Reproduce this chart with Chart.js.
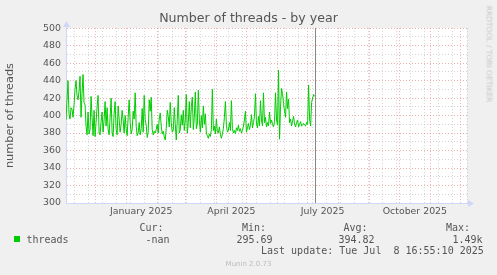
<!DOCTYPE html>
<html>
<head>
<meta charset="utf-8">
<title>Number of threads - by year</title>
<script src="https://cdn.jsdelivr.net/npm/chart.js@4/dist/chart.umd.min.js"></script>
<style>
  body { margin: 0; background: #f0f0f0; }
  #wrap { position: relative; width: 497px; height: 275px; }
  #chart { display: block; }
  .t { position: absolute; font: 10px/12px "DejaVu Sans Mono", monospace; color: #555; white-space: pre; }
  .swatch { position: absolute; left: 14px; top: 236px; width: 6px; height: 6px; background: #00cc00; }
  .foot { position: absolute; left: 0; width: 497px; top: 259.5px; text-align: center; font: 7px/9px "DejaVu Sans", sans-serif; color: #bbb; }
  .rrd { position: absolute; left: 488.5px; top: 53.5px; transform: translate(-50%, -50%) rotate(90deg);
         font: 7.5px/9px "DejaVu Sans", sans-serif; color: #c8c8c8; white-space: pre; }
</style>
</head>
<body>
<div id="wrap">
  <canvas id="chart" width="497" height="275"></canvas>
  <div class="rrd">RRDTOOL / TOBI OETIKER</div>
  <div class="swatch"></div>
  <div class="t" style="left:26.5px;top:233.5px">threads</div>
  <div class="t" style="left:139.5px;top:222px">Cur:</div>
  <div class="t" style="left:145.5px;top:233.5px">-nan</div>
  <div class="t" style="left:242px;top:222px">Min:</div>
  <div class="t" style="left:236.5px;top:233.5px">295.69</div>
  <div class="t" style="left:343.5px;top:222px">Avg:</div>
  <div class="t" style="left:338.5px;top:233.5px">394.82</div>
  <div class="t" style="left:446px;top:222px">Max:</div>
  <div class="t" style="left:452.5px;top:233.5px">1.49k</div>
  <div class="t" style="left:261px;top:245.3px">Last update: Tue Jul  8 16:55:10 2025</div>
  <div class="foot">Munin 2.0.73</div>
</div>
<script>
// x values are days counted from 1 Nov 2024
const firstDay = 1;
const nowDay = 249; // Tue Jul 8 2025

// daily thread counts, 2 Nov 2024 .. 8 Jul 2025
const threads = [
  395, 418, 440, 402, 396, 409, 407, 398, 412, 430,
  440, 423, 418, 428, 445, 398, 425, 447, 415, 412,
  388, 378, 404, 379, 384, 422, 398, 377, 406, 376,
  392, 410, 423, 380, 378, 393, 404, 381, 395, 416,
  388, 409, 385, 378, 398, 420, 380, 376, 402, 416,
  384, 378, 411, 396, 381, 390, 406, 395, 380, 400,
  385, 377, 398, 418, 392, 379, 384, 405, 396, 426,
  388, 377, 380, 392, 378, 385, 408, 381, 423, 395,
  389, 375, 381, 418, 405, 421, 384, 378, 382, 380,
  384, 390, 380, 396, 403, 388, 379, 382, 376, 372,
  385, 406, 399, 387, 415, 392, 381, 383, 409, 390,
  372, 395, 423, 380, 384, 401, 389, 406, 383, 395,
  424, 380, 392, 416, 386, 410, 421, 384, 398, 427,
  385, 390, 429, 395, 381, 400, 386, 411, 390, 402,
  380, 377, 374, 379, 376, 384, 430, 383, 388, 379,
  396, 381, 380, 387, 378, 374, 379, 385, 398, 416,
  389, 381, 383, 392, 383, 417, 385, 380, 383, 379,
  386, 383, 389, 382, 385, 380, 383, 388, 395, 405,
  381, 386, 391, 384, 389, 401, 386, 392, 399, 425,
  390, 386, 399, 388, 417, 395, 388, 426, 392, 398,
  387, 392, 388, 404, 391, 395, 390, 387, 393, 426,
  395, 389, 452, 373, 410, 431, 425, 414, 405, 398,
  427, 408, 419, 392, 396, 388, 394, 399, 390, 387,
  392, 395, 387, 390, 393, 388, 389, 391, 389, 388,
  392, 390, 435, 396, 388, 415, 420, 424, 422
];

// first day of each month (red lines)
const monthStarts = [30, 61, 92, 120, 151, 181, 212, 242, 273, 304, 334, 365, 395];
// two-weekly minor lines (grey)
const minorDays = [9, 23, 37, 51, 65, 79, 93, 107, 121, 135, 149, 163, 177, 191, 205,
                   219, 233, 247, 261, 275, 289, 303, 317, 331, 345, 359, 373, 387, 401];
const labelDays = [76, 166, 257, 349];
const labelTexts = ["January 2025", "April 2025", "July 2025", "October 2025"];

const gridRed = "rgba(225,110,110,0.55)";
const gridGray = "rgba(160,160,160,0.45)";
const axisColor = "#cfd6f8";
const fontColor = "#555";

const points = threads.map((v, i) => ({ x: firstDay + i, y: v }));

const plotBg = {
  id: "plotBg",
  beforeDraw(chart) {
    const a = chart.chartArea, c = chart.ctx;
    c.save();
    c.fillStyle = "#fff";
    c.fillRect(a.left, a.top, a.right - a.left, a.bottom - a.top);
    c.restore();
  }
};

const muninBits = {
  id: "muninBits",
  afterDatasetsDraw(chart) {
    const a = chart.chartArea, c = chart.ctx;
    const x = Math.round(chart.scales.x.getPixelForValue(nowDay)) + 0.5;
    c.save();
    c.strokeStyle = "#888";
    c.lineWidth = 1;
    c.beginPath();
    c.moveTo(x, a.top);
    c.lineTo(x, a.bottom);
    c.stroke();
    c.restore();
  },
  afterDraw(chart) {
    const a = chart.chartArea, c = chart.ctx;
    const left = Math.round(a.left) + 0.5, bottom = Math.round(a.bottom) + 0.5;
    c.save();
    c.strokeStyle = axisColor;
    c.fillStyle = axisColor;
    c.lineWidth = 1;
    c.beginPath();
    c.moveTo(left, a.top);
    c.lineTo(left, a.top - 4);
    c.moveTo(a.right, bottom);
    c.lineTo(a.right + 3, bottom);
    c.stroke();
    c.beginPath();
    c.moveTo(left, a.top - 7);
    c.lineTo(left - 3.5, a.top - 1);
    c.lineTo(left + 3.5, a.top - 1);
    c.closePath();
    c.fill();
    c.beginPath();
    c.moveTo(a.right + 7, bottom);
    c.lineTo(a.right + 1, bottom - 3.5);
    c.lineTo(a.right + 1, bottom + 3.5);
    c.closePath();
    c.fill();
    c.restore();
  }
};

const ctx = document.getElementById("chart").getContext("2d");
new Chart(ctx, {
  type: "line",
  data: {
    datasets: [
      {
        label: "threads",
        data: points,
        borderColor: "#00cc00",
        borderWidth: 1,
        pointRadius: 0,
        fill: false,
        tension: 0,
      },
    ],
  },
  options: {
    responsive: false,
    animation: false,
    events: [],
    layout: { padding: 0 },
    plugins: {
      legend: { display: false },
      tooltip: { enabled: false },
      title: {
        display: true,
        text: "Number of threads - by year",
        color: fontColor,
        font: { family: "DejaVu Sans", size: 12.6, weight: "normal" },
        padding: { top: 11, bottom: 2 },
      },
    },
    scales: {
      x: {
        type: "linear",
        min: 1,
        max: 401,
        afterBuildTicks(scale) {
          const all = monthStarts.concat(minorDays, labelDays).sort((a, b) => a - b);
          scale.ticks = all.map((v) => ({ value: v }));
        },
        afterFit(scale) {
          scale.height = 72;
        },
        ticks: {
          autoSkip: false,
          maxRotation: 0,
          padding: 3,
          color: fontColor,
          font: { family: "DejaVu Sans", size: 9.4 },
          callback(v) {
            const k = labelDays.indexOf(v);
            return k >= 0 ? labelTexts[k] : "";
          },
        },
        grid: {
          drawTicks: false,
          lineWidth: 1,
          color(c) {
            const v = c.tick && c.tick.value;
            if (monthStarts.includes(v)) return gridRed;
            if (minorDays.includes(v)) return gridGray;
            return "rgba(0,0,0,0)";
          },
        },
        border: { color: axisColor, dash: [1, 2] },
      },
      y: {
        min: 300,
        max: 500,
        afterFit(scale) {
          scale.width = 66;
        },
        ticks: {
          stepSize: 10,
          autoSkip: false,
          padding: 5,
          color: fontColor,
          font: { family: "DejaVu Sans", size: 9.4 },
          callback: (v) => (v % 20 === 0 ? String(v) : ""),
        },
        grid: {
          drawTicks: false,
          lineWidth: 1,
          color: (c) => (c.tick && c.tick.value % 20 === 0 ? gridRed : gridGray),
        },
        border: { color: axisColor, dash: [1, 2] },
        title: {
          display: true,
          text: "number of threads",
          color: fontColor,
          font: { family: "DejaVu Sans", size: 11.3 },
          padding: { top: 3, bottom: 0 },
        },
      },
      y2: {
        type: "linear",
        position: "right",
        display: true,
        grid: { display: false },
        border: { display: false },
        ticks: { display: false },
        afterFit(scale) {
          scale.width = 30;
        },
      },
    },
  },
  plugins: [plotBg, muninBits],
});
</script>
</body>
</html>
